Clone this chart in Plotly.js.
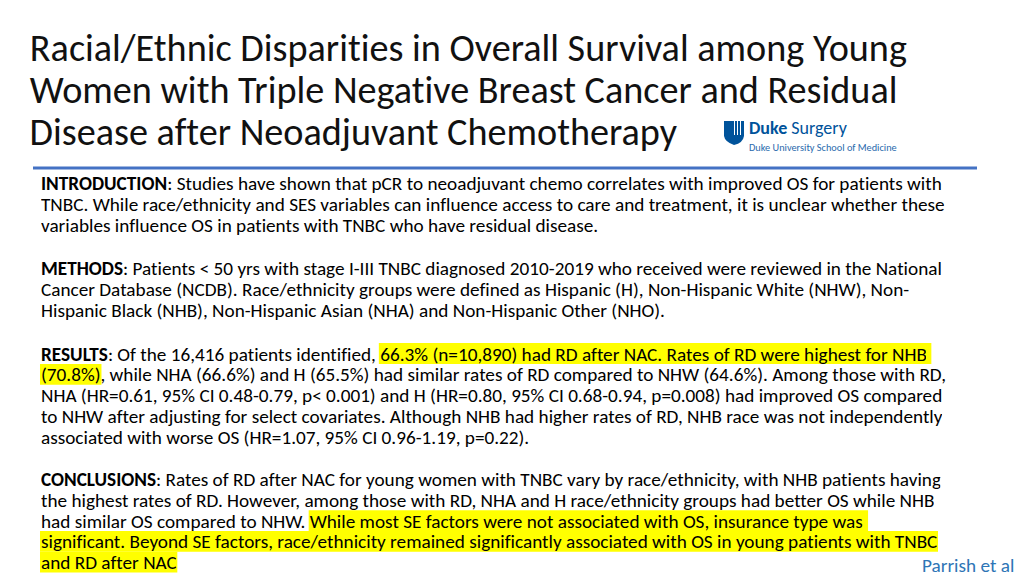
<!DOCTYPE html>
<html><head><meta charset="utf-8">
<script src="https://cdn.plot.ly/plotly-3.0.1.min.js"></script>
<style>html,body{margin:0;padding:0;background:#fff;overflow:hidden}#chart{width:1024px;height:576px}
#chart text, #chart tspan{font-variant-ligatures:none !important;font-feature-settings:"liga" 0,"clig" 0,"dlig" 0 !important}</style>
</head><body><div id="chart"></div>
<script>
// ---- content ----
const titleLines = [
  "Racial/Ethnic Disparities in Overall Survival among Young",
  "Women with Triple Negative Breast Cancer and Residual",
  "Disease after Neoadjuvant Chemotherapy"
];
// **bold**, ==highlighted==
const introLines = [
  "**INTRODUCTION**: Studies have shown that pCR to neoadjuvant chemo correlates with improved OS for patients with",
  "TNBC. While race/ethnicity and SES variables can influence access to care and treatment, it is unclear whether these",
  "variables influence OS in patients with TNBC who have residual disease."
];
const methodsLines = [
  "**METHODS**: Patients < 50 yrs with stage I-III TNBC diagnosed 2010-2019 who received were reviewed in the National",
  "Cancer Database (NCDB). Race/ethnicity groups were defined as Hispanic (H), Non-Hispanic White (NHW), Non-",
  "Hispanic Black (NHB), Non-Hispanic Asian (NHA) and Non-Hispanic Other (NHO)."
];
const resultsLines = [
  "**RESULTS**: Of the 16,416 patients identified, ==66.3% (n=10,890) had RD after NAC. Rates of RD were highest for NHB ==",
  "==(70.8%)==, while NHA (66.6%) and H (65.5%) had similar rates of RD compared to NHW (64.6%). Among those with RD,",
  "NHA (HR=0.61, 95% CI 0.48-0.79, p< 0.001) and H (HR=0.80, 95% CI 0.68-0.94, p=0.008) had improved OS compared",
  "to NHW after adjusting for select covariates. Although NHB had higher rates of RD, NHB race was not independently",
  "associated with worse OS (HR=1.07, 95% CI 0.96-1.19, p=0.22)."
];
const conclusionLines = [
  "**CONCLUSIONS**: Rates of RD after NAC for young women with TNBC vary by race/ethnicity, with NHB patients having",
  "the highest rates of RD. However, among those with RD, NHA and H race/ethnicity groups had better OS while NHB",
  "had similar OS compared to NHW. ==While most SE factors were not associated with OS, insurance type was ==",
  "==significant. Beyond SE factors, race/ethnicity remained significantly associated with OS in young patients with TNBC==",
  "==and RD after NAC=="
];
const logoName = ["Duke", "Surgery"];
const logoSub = "Duke University School of Medicine";
const authorText = "Parrish et al";

// ---- layout helpers ----
const FONT = 'Carlito, Calibri, Lato, "Open Sans", sans-serif';
const ctx = document.createElement('canvas').getContext('2d');
function measure(t, size, bold){ ctx.font = (bold?'bold ':'') + size + 'px ' + FONT; return ctx.measureText(t).width; }
function parse(line){
  const segs = []; const re = /(\*\*.+?\*\*|==.+?==)/g; let last = 0, m;
  while ((m = re.exec(line))){
    if (m.index > last) segs.push({t: line.slice(last, m.index), k: ''});
    const s = m[0];
    segs.push({t: s.slice(2, -2), k: s.startsWith('**') ? 'b' : 'h'});
    last = m.index + s.length;
  }
  if (last < line.length) segs.push({t: line.slice(last), k: ''});
  return segs;
}
function plainWidth(line, size){
  return parse(line).reduce((a,s)=>a+measure(s.t, size, s.k==='b'), 0);
}
function esc(t){ return t.replace(/&/g,'&amp;').replace(/</g,'&lt;').replace(/>/g,'&gt;'); }

// calibrate font sizes so line widths match the slide
const bodyRef = [[introLines[0], 901],[introLines[1], 903],[methodsLines[0], 901],[resultsLines[2], 901],[resultsLines[3], 902]];
let r = 0; bodyRef.forEach(([l,w])=>{ r += w/plainWidth(l,16); });
const BODY = 16 * r / bodyRef.length;
const TITLE = 34 * (877 / measure(titleLines[0], 34, false));
const LH = 20.8;

const annotations = [];
const shapes = [];
const BX = 41;
function addSection(lines, yFirst){
  lines.forEach((l,i)=>{
    const ly = yFirst + i*LH;
    const segs = parse(l);
    const text = segs.map(s=> s.k==='b' ? '<b>'+esc(s.t)+'</b>' : esc(s.t)).join('').replace(/\s+$/,'');
    annotations.push({xref:'x', yref:'y', x: BX, y: ly, xanchor:'left', yanchor:'middle', align:'left', valign:'middle',
      showarrow:false, height:20.4, text: text, font:{family:FONT, size:BODY, color:'#000'}, borderpad:0, borderwidth:0});
    let x = BX;
    segs.forEach(s=>{
      const w = measure(s.t, BODY, s.k==='b');
      if (s.k==='h') shapes.push({type:'rect', xref:'x', yref:'y', layer:'below', x0:x-1, x1:x+w+1, y0:ly-LH/2, y1:ly+LH/2,
        fillcolor:'#ffff00', line:{width:0}});
      x += w;
    });
  });
}
addSection(introLines, 183);
addSection(methodsLines, 268);
addSection(resultsLines, 353.5);
addSection(conclusionLines, 479);

titleLines.forEach((t,i)=>annotations.push({xref:'x', yref:'y', x:30, y:48+i*42, xanchor:'left', yanchor:'middle', showarrow:false,
  text: esc(t), font:{family:FONT, size:TITLE, color:'#111'}, borderpad:0, borderwidth:0}));

// logo text
const DUKE = '#00539b';
annotations.push({xref:'x', yref:'y', x:749, y:128, xanchor:'left', yanchor:'middle', showarrow:false,
  text:'<b>'+logoName[0]+'</b> '+logoName[1], font:{family:FONT, size:18, color:DUKE}, borderpad:0, borderwidth:0});
annotations.push({xref:'x', yref:'y', x:749, y:147, xanchor:'left', yanchor:'middle', showarrow:false,
  text:logoSub, font:{family:FONT, size:10.3, color:'#2a6aad'}, borderpad:0, borderwidth:0});
annotations.push({xref:'x', yref:'y', x:1014, y:564.5, xanchor:'right', yanchor:'middle', showarrow:false, height:20.4,
  text:authorText, font:{family:FONT, size:BODY, color:'#2e75b6'}, borderpad:0, borderwidth:0});

shapes.push(
  {type:'line', xref:'x', yref:'y', x0:33, x1:977, y0:168, y1:168, line:{color:'#4472c4', width:3}},
  {type:'path', xref:'x', yref:'y', path:'M724,121 L744,121 L744,136 Q743,143 734,145 Q725,142 724,136 Z', fillcolor:DUKE, line:{width:0}},
  {type:'line', xref:'x', yref:'y', x0:734.5, x1:734.5, y0:121, y1:135, line:{color:'#fff', width:1}},
  {type:'line', xref:'x', yref:'y', x0:737.5, x1:737.5, y0:121, y1:135, line:{color:'#fff', width:1}},
  {type:'line', xref:'x', yref:'y', x0:740.5, x1:740.5, y0:121, y1:135, line:{color:'#fff', width:1}}
);

const layout = {
  width:1024, height:576, margin:{l:0,r:0,t:0,b:0}, paper_bgcolor:'#fff', plot_bgcolor:'rgba(0,0,0,0)', showlegend:false,
  xaxis:{range:[0,1024], visible:false, fixedrange:true},
  yaxis:{range:[576,0], visible:false, fixedrange:true},
  annotations: annotations, shapes: shapes
};
Plotly.newPlot('chart', [], layout, {staticPlot:true, displayModeBar:false});
</script></body></html>
